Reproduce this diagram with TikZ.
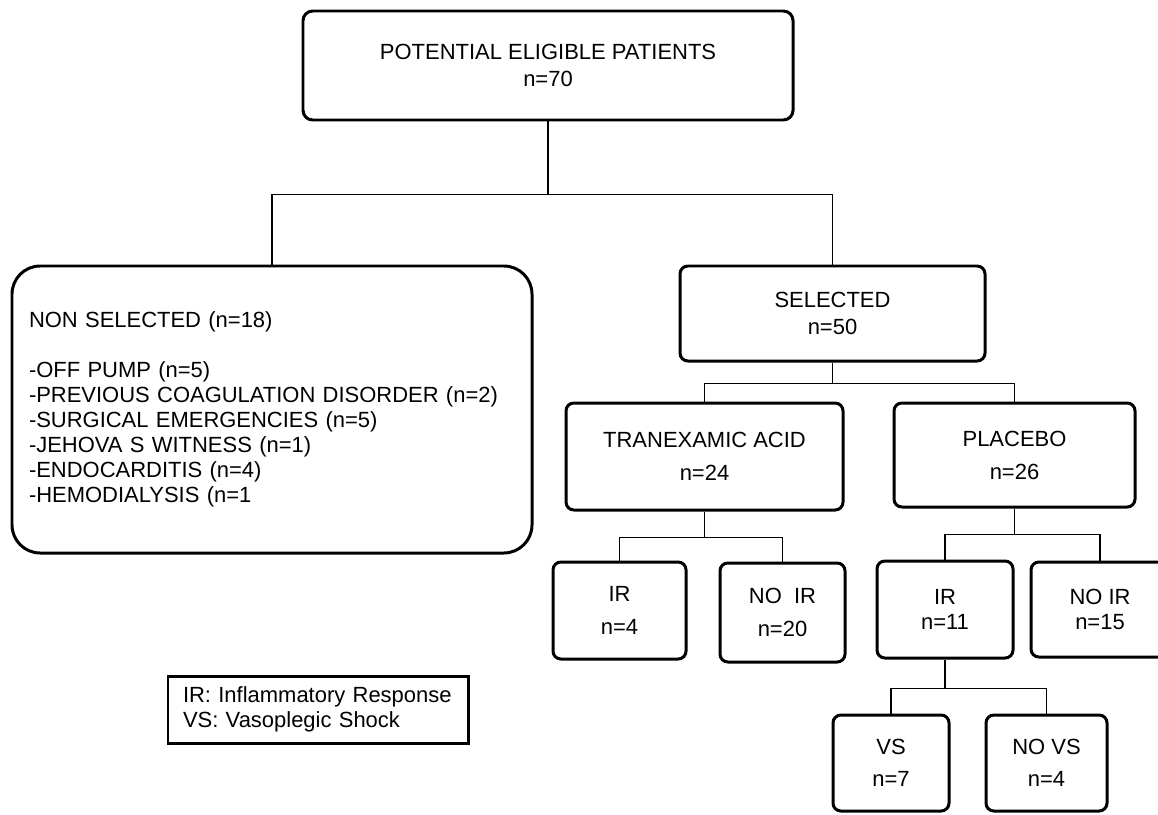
\documentclass[tikz,border=0pt]{standalone}
\usepackage{fontspec}
\setmainfont{Liberation Sans}
\begin{document}
\begin{tikzpicture}[
  font=\fontsize{12.5}{14.2}\selectfont,
  box/.style={draw=black, rounded corners=4.5pt, line width=1.7pt,
              align=center, inner sep=2pt},
  bigbox/.style={draw=black, rounded corners=16pt, line width=1.7pt,
                 align=left, inner xsep=0.34cm, text width=9.72cm,
                 minimum width=10.4cm, minimum height=5.74cm},
  legendbox/.style={draw=black, line width=1.7pt, align=left,
                    inner xsep=0.3cm, text width=5.4cm,
                    minimum width=6.0cm, minimum height=1.34cm},
  e/.style={draw=black, line width=1.1pt}
]
\useasboundingbox (0,0) rectangle (23.16,-16.28);

% root
\node[box, rounded corners=5.5pt, minimum width=9.8cm, minimum height=2.18cm] (pot) at (10.96,-1.31)
  {POTENTIAL ELIGIBLE PATIENTS\\[1.1pt]n=70};

% first split
\node[bigbox] (nonsel) at (5.44,-8.19)
  {NON SELECTED (n=18)\\[14.2pt]
   -OFF PUMP (n=5)\\
   -PREVIOUS COAGULATION DISORDER (n=2)\\
   -SURGICAL EMERGENCIES (n=5)\\
   -JEHOVA S WITNESS (n=1)\\
   -ENDOCARDITIS (n=4)\\
   -HEMODIALYSIS (n=1};
\node[box, minimum width=6.1cm, minimum height=1.9cm] (sel) at (16.65,-6.27)
  {SELECTED\\[1.1pt]n=50};

\draw[e] (pot.south) -- ++(0,-1.46) -| (nonsel.north);
\draw[e] (pot.south) -- ++(0,-1.46) -| (sel.north);

% randomised arms
\node[box, minimum width=5.54cm, minimum height=2.14cm] (txa) at (14.09,-9.13)
  {TRANEXAMIC ACID\\[4.5pt]n=24};
\node[box, minimum width=4.82cm, minimum height=2.08cm] (plac) at (20.29,-9.10)
  {PLACEBO\\[4.5pt]n=26};

\draw[e] (sel.south) -- ++(0,-0.42) -| (txa.north);
\draw[e] (sel.south) -- ++(0,-0.42) -| (plac.north);

% inflammatory response
\node[box, minimum width=2.66cm, minimum height=1.94cm] (ir1) at (12.39,-12.21)
  {IR\\[4.5pt]n=4};
\node[box, minimum width=2.5cm, minimum height=1.98cm] (noir1) at (15.65,-12.25)
  {NO\ \ IR\\[4.3pt]n=20};
\node[box, minimum width=2.72cm, minimum height=1.94cm] (ir2) at (18.90,-12.19)
  {IR\\n=11};
\node[box, minimum width=2.76cm, minimum height=1.9cm] (noir2) at (22.00,-12.19)
  {NO IR\\n=15};

\draw[e] (txa.south) -- ++(0,-0.52) -| (ir1.north);
\draw[e] (txa.south) -- ++(0,-0.52) -| (noir1.north);
\draw[e] (plac.south) -- ++(0,-0.52) -| (ir2.north);
\draw[e] (plac.south) -- ++(0,-0.52) -| (noir2.north);

% vasoplegic shock
\node[box, minimum width=2.32cm, minimum height=1.92cm] (vs) at (17.82,-15.26)
  {VS\\[4.3pt]n=7};
\node[box, minimum width=2.42cm, minimum height=1.92cm] (novs) at (20.93,-15.26)
  {NO VS\\[4.3pt]n=4};

\draw[e] (ir2.south) -- ++(0,-0.58) -| (vs.north);
\draw[e] (ir2.south) -- ++(0,-0.58) -| (novs.north);

% legend
\node[legendbox] (legend) at (6.36,-14.19)
  {IR: Inflammatory Response\\VS: Vasoplegic Shock};
\end{tikzpicture}
\end{document}
